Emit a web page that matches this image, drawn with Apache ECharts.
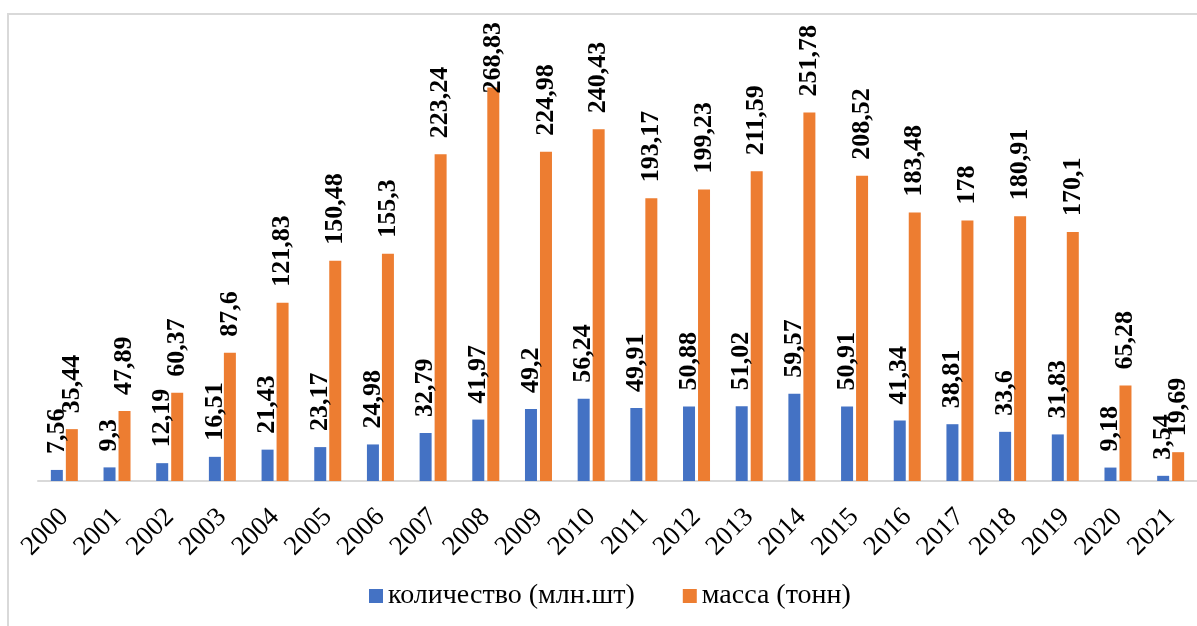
<!DOCTYPE html>
<html>
<head>
<meta charset="utf-8">
<script src="https://cdn.jsdelivr.net/npm/echarts@6/dist/echarts.min.js"></script>
<style>
html, body { margin: 0; padding: 0; background: #fff; }
#main { width: 1197px; height: 626px; }
</style>
</head>
<body>
<div id="main"></div>
<script>
const years = ["2000", "2001", "2002", "2003", "2004", "2005", "2006", "2007", "2008", "2009", "2010",
    "2011", "2012", "2013", "2014", "2015", "2016", "2017", "2018", "2019", "2020", "2021"];
// количество (млн.шт)
const quantity = [7.56, 9.3, 12.19, 16.51, 21.43, 23.17, 24.98, 32.79, 41.97, 49.2, 56.24,
    49.91, 50.88, 51.02, 59.57, 50.91, 41.34, 38.81, 33.6, 31.83, 9.18, 3.54];
// масса (тонн)
const mass = [35.44, 47.89, 60.37, 87.6, 121.83, 150.48, 155.3, 223.24, 268.83, 224.98, 240.43,
    193.17, 199.23, 211.59, 251.78, 208.52, 183.48, 178, 180.91, 170.1, 65.28, 19.69];

const serif = "'Liberation Serif', 'DejaVu Serif', serif";
const comma = (p) => String(p.value).replace(".", ",");

const barLabel = {
    show: true,
    position: "top",
    distance: 16,
    rotate: 90,
    align: "left",
    verticalAlign: "middle",
    fontFamily: serif,
    fontSize: 26,
    fontWeight: "bold",
    color: "#000",
    formatter: comma
};

const myChart = echarts.init(document.getElementById("main"));
const option = {
    animation: false,
    color: ["#4472C4", "#ED7D31"],
    graphic: [{
        type: "rect",
        shape: { x: 8, y: 14, width: 1400, height: 800 },
        style: { fill: "none", stroke: "#d9d9d9", lineWidth: 2 },
        silent: true
    }],
    grid: { left: 38, right: 0, top: 42, bottom: 145 },
    legend: {
        top: 577,
        left: 364,
        itemWidth: 14,
        itemHeight: 14,
        itemGap: 48,
        icon: "rect",
        textStyle: { fontFamily: serif, fontSize: 28, color: "#000" },
        data: ["количество (млн.шт)", "масса (тонн)"]
    },
    xAxis: {
        type: "category",
        data: years,
        axisLine: { lineStyle: { color: "#d9d9d9", width: 2 } },
        axisTick: { show: false },
        axisLabel: {
            interval: 0,
            rotate: 45,
            margin: 32,
            fontFamily: serif,
            fontSize: 27,
            color: "#000"
        }
    },
    yAxis: {
        type: "value",
        min: 0,
        max: 300,
        show: false
    },
    series: [{
            name: "количество (млн.шт)",
            type: "bar",
            barWidth: 12,
            barGap: "25%",
            label: barLabel,
            data: quantity
        },
        {
            name: "масса (тонн)",
            type: "bar",
            barWidth: 12,
            barGap: "25%",
            label: barLabel,
            // the tallest label gets pushed down into the plot, like in the source
            data: mass.map((v) => v > 260 ? { value: v, label: { distance: -6 } } : v)
        }
    ]
};
myChart.setOption(option);
</script>
</body>
</html>
